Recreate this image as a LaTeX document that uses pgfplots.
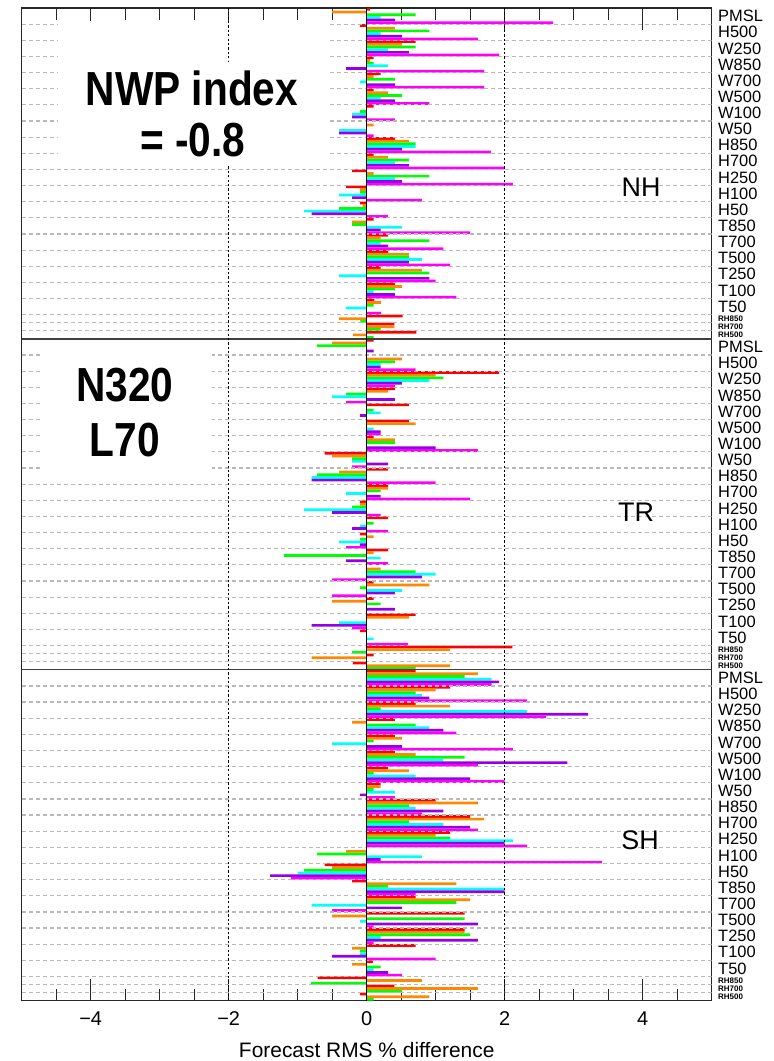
\documentclass[border=0pt]{standalone}
\usepackage{fontspec}
\setmainfont{Liberation Sans}
\usepackage{graphicx}
\usepackage{pgfplots}
\pgfplotsset{compat=1.18}
\usepackage{pgfplotstable}

\definecolor{cR}{RGB}{255,0,0}
\definecolor{cO}{RGB}{255,136,0}
\definecolor{cG}{RGB}{0,255,0}
\definecolor{cC}{RGB}{0,255,255}
\definecolor{cP}{RGB}{150,0,230}
\definecolor{cM}{RGB}{255,0,255}
\tikzset{gridline/.style={gray!55, line width=1.2bp, dash pattern=on 4bp off 3bp}}

% columns: start of group (row units), red, orange, green, cyan, purple, magenta
\pgfplotstableread{
start r o g c p m
0 0.05 -0.5 0.71 0.2 0.41 2.7
6 -0.1 0.41 0.91 0.2 0.51 1.61
12 0.71 0.51 0.71 0.31 0.61 1.92
18 0.1 0.05 0.1 0.31 -0.3 1.7
24 0.2 0.1 0.41 -0.1 0.41 1.7
30 0.1 0.31 0.51 0.2 0.41 0.91
36 0.1 0 -0.1 -0.21 -0.21 0.41
42 0 0.1 0 -0.4 -0.4 0.1
48 0.41 0.61 0.71 0.71 0.51 1.8
54 0.1 0.31 0.61 0.41 0.61 2.0
60 -0.21 0.1 0.91 0.41 0.51 2.12
66 -0.3 -0.1 -0.1 -0.4 -0.21 0.8
72 -0.1 -0.06 -0.4 -0.91 -0.8 0.31
78 0.1 -0.21 -0.21 0.51 0.2 1.5
84 0.31 0.2 0.91 0.2 0.31 1.11
90 0.31 0.61 0.61 0.8 0.61 1.21
96 0.2 0.8 0.91 -0.4 0.91 1.0
102 0.41 0.51 0.41 0.1 0.41 1.3
108 0.11 0.21 0.1 -0.3 0 0.21
114 0.52 -0.4 -0.09 nan nan nan
117 0.4 0.4 0.2 nan nan nan
120 0.72 -0.2 0.1 nan nan nan
}\nh

\pgfplotstableread{
start r o g c p m
123 0.1 -0.5 -0.72 0 0.1 0
129 0 0.51 0.41 0.2 0.2 0.71
135 1.92 1.0 1.11 0.91 0.51 0.41
141 0.41 0.31 -0.3 -0.5 0.41 -0.3
147 0.61 0 0.1 0.2 -0.1 0
153 0.61 0.71 0 0.1 0.2 0.2
159 0.1 0.41 0.41 0 1.0 1.61
165 -0.61 -0.5 -0.21 -0.21 0.31 -0.21
171 0.31 -0.4 -0.72 -0.8 -0.8 1.0
177 0.31 0.31 0.2 -0.3 0.2 1.5
183 -0.1 -0.1 -0.21 -0.91 -0.5 0.2
189 0.31 0 0.1 -0.1 -0.21 0.31
195 -0.1 0.1 -0.1 -0.4 -0.1 -0.3
201 0.31 0.1 -1.2 0.2 -0.3 0.31
207 0 0.2 0.71 1.0 0.8 -0.5
213 0.1 0.91 -0.1 0.51 0.41 -0.5
219 0.1 -0.5 0.2 0 0.41 0
225 0.71 0.61 0 -0.4 -0.8 -0.21
231 -0.1 0 0 0.1 0 0.6
237 2.11 1.21 -0.21 nan nan nan
240 0.1 -0.8 0 nan nan nan
243 -0.2 1.21 0.71 nan nan nan
}\tr

\pgfplotstableread{
start r o g c p m
246 0.71 1.61 1.42 1.81 1.92 1.81
252 1.21 1.0 0.71 0.8 0.91 2.32
258 0.71 1.21 0.2 2.32 3.21 2.6
264 0.41 -0.21 0.71 0.91 1.11 1.3
270 0.41 0.51 0.1 -0.5 0.51 2.12
276 0.41 0.71 1.42 1.11 2.91 1.61
282 0.31 0.61 0.1 0.71 1.5 2.0
288 0.2 0.2 0.1 0.41 -0.1 0.41
294 1.0 1.61 0.61 0.71 1.11 0.8
300 1.5 1.7 0.61 1.11 1.5 1.61
306 1.21 1.0 1.21 2.12 2.0 2.32
312 0 -0.3 -0.72 0.8 0.2 3.41
318 -0.61 -0.5 -0.91 -1.0 -1.4 -1.1
324 -0.21 1.3 0.31 2.0 2.0 0.71
330 0.71 1.5 1.3 -0.8 0.51 -0.5
336 1.42 -0.5 1.42 -0.1 1.61 0.1
342 1.42 1.42 1.5 0.2 1.61 0.1
348 0.71 -0.21 -0.1 -0.1 -0.5 1.0
354 0.09 -0.21 0.2 0.1 0.31 0.51
360 -0.71 0.8 -0.81 nan nan nan
363 0.4 1.61 0.51 nan nan nan
366 -0.1 0.91 0.1 nan nan nan
}\sh

\newcommand{\labfont}{\fontsize{16.5}{17}\selectfont}
\newcommand{\rhfont}{\fontsize{8}{8}\selectfont\bfseries}
\newcommand{\bigtxt}{\fontsize{48}{48}\selectfont\bfseries}
\newcommand{\panfont}{\fontsize{27}{27}\selectfont}

\begin{document}
\begin{tikzpicture}[x=1bp,y=1bp]
\begin{axis}[
  at={(0,0)}, anchor=south west,
  scale only axis, width=690bp, height=992.7bp,
  xmin=-5, xmax=5, ymin=-369, ymax=0,
  axis line style={black!85, line width=1.4bp},
  xtick={-4,-2,0,2,4},
  xticklabels={−4,−2,0,2,4},
  minor xtick={-4.5,-3.5,-3,-2.5,-1.5,-1,-0.5,0.5,1,1.5,2.5,3,3.5,4.5},
  xtick pos=both, tick align=inside,
  major tick length=22bp, minor tick length=12bp,
  tick style={black!85, line width=1.3bp},
  ytick=\empty,
  xticklabel style={font=\fontsize{20}{20}\selectfont, yshift=-7.5bp},
  barR/.style={xbar, bar width=1, bar shift=0pt, fill=cR, draw=none},
  barO/.style={xbar, bar width=1, bar shift=0pt, fill=cO, draw=none},
  barG/.style={xbar, bar width=1, bar shift=0pt, fill=cG, draw=none},
  barC/.style={xbar, bar width=1, bar shift=0pt, fill=cC, draw=none},
  barP/.style={xbar, bar width=1, bar shift=0pt, fill=cP, draw=none},
  barM/.style={xbar, bar width=1, bar shift=0pt, fill=cM, draw=none},
]
% NH
\addplot[barR] table[x=r, y expr=-\thisrow{start}-0.5] {\nh};
\addplot[barO] table[x=o, y expr=-\thisrow{start}-1.5] {\nh};
\addplot[barG] table[x=g, y expr=-\thisrow{start}-2.5] {\nh};
\addplot[barC] table[x=c, y expr=-\thisrow{start}-3.5] {\nh};
\addplot[barP] table[x=p, y expr=-\thisrow{start}-4.5] {\nh};
\addplot[barM] table[x=m, y expr=-\thisrow{start}-5.5] {\nh};
% TR
\addplot[barR] table[x=r, y expr=-\thisrow{start}-0.5] {\tr};
\addplot[barO] table[x=o, y expr=-\thisrow{start}-1.5] {\tr};
\addplot[barG] table[x=g, y expr=-\thisrow{start}-2.5] {\tr};
\addplot[barC] table[x=c, y expr=-\thisrow{start}-3.5] {\tr};
\addplot[barP] table[x=p, y expr=-\thisrow{start}-4.5] {\tr};
\addplot[barM] table[x=m, y expr=-\thisrow{start}-5.5] {\tr};
% SH
\addplot[barR] table[x=r, y expr=-\thisrow{start}-0.5] {\sh};
\addplot[barO] table[x=o, y expr=-\thisrow{start}-1.5] {\sh};
\addplot[barG] table[x=g, y expr=-\thisrow{start}-2.5] {\sh};
\addplot[barC] table[x=c, y expr=-\thisrow{start}-3.5] {\sh};
\addplot[barP] table[x=p, y expr=-\thisrow{start}-4.5] {\sh};
\addplot[barM] table[x=m, y expr=-\thisrow{start}-5.5] {\sh};
\pgfplotsinvokeforeach{6,12,...,120,117,129,135,...,243,240,252,258,...,366,363}{
  \draw[gridline] (axis cs:-5,-#1) -- (axis cs:5,-#1);
}
\draw[black!75, line width=1.4bp] (axis cs:-5,-123) -- (axis cs:5,-123);
\draw[black!75, line width=1.4bp] (axis cs:-5,-246) -- (axis cs:5,-246);
\draw[black, line width=1.5bp] (axis cs:0,0) -- (axis cs:0,-369);
\draw[black, line width=1.4bp, dash pattern=on 2.2bp off 2.2bp] (axis cs:-2,0) -- (axis cs:-2,-369);
\draw[black, line width=1.4bp, dash pattern=on 2.2bp off 2.2bp] (axis cs:2,0) -- (axis cs:2,-369);
\end{axis}

\begin{scope}[shift={(-21.7,1000.7)}, yscale=-1]
  % text boxes
  \fill[white] (58,21) rectangle (330,62);
  \draw[black, line width=1.4bp, dash pattern=on 2.2bp off 2.2bp] (228.7,21) -- (228.7,62);
  \fill[white] (58,62) rectangle (330,166);
  \node[font=\bigtxt] at (192,88) {\scalebox{0.85}[1]{NWP index}};
  \node[font=\bigtxt] at (193,140) {\scalebox{0.85}[1]{= -0.8}};
  \fill[white] (40,344) rectangle (212,476);
  \node[font=\bigtxt] at (125,385) {\scalebox{0.85}[1]{N320}};
  \node[font=\bigtxt] at (125,440) {\scalebox{0.85}[1]{L70}};
  % panel labels
  \node[font=\panfont] at (641,187) {NH};
  \node[font=\panfont] at (636,512) {TR};
  \node[font=\panfont] at (640,840) {SH};
  % variable labels
  \foreach \o in {0,123,246}{
    \foreach \n [count=\i from 0] in {PMSL,H500,W250,W850,W700,W500,W100,W50,H850,H700,H250,H100,H50,T850,T700,T500,T250,T100,T50}{
      \node[anchor=west, font=\labfont, inner sep=0pt] at (718,{8+(\o+6*\i+3)*2.6902}) {\n};
    }
    \foreach \n [count=\i from 0] in {RH850,RH700,RH500}{
      \node[anchor=west, font=\rhfont, inner sep=0pt] at (718,{8+(\o+114+3*\i+1.5)*2.6902}) {\n};
    }
  }
  % x label
  \node[font=\fontsize{21}{21}\selectfont] at (366.7,1050) {Forecast RMS \% difference};
  \pgfresetboundingbox
  \path (0,0) rectangle (774,1061);
\end{scope}
\end{tikzpicture}
\end{document}
